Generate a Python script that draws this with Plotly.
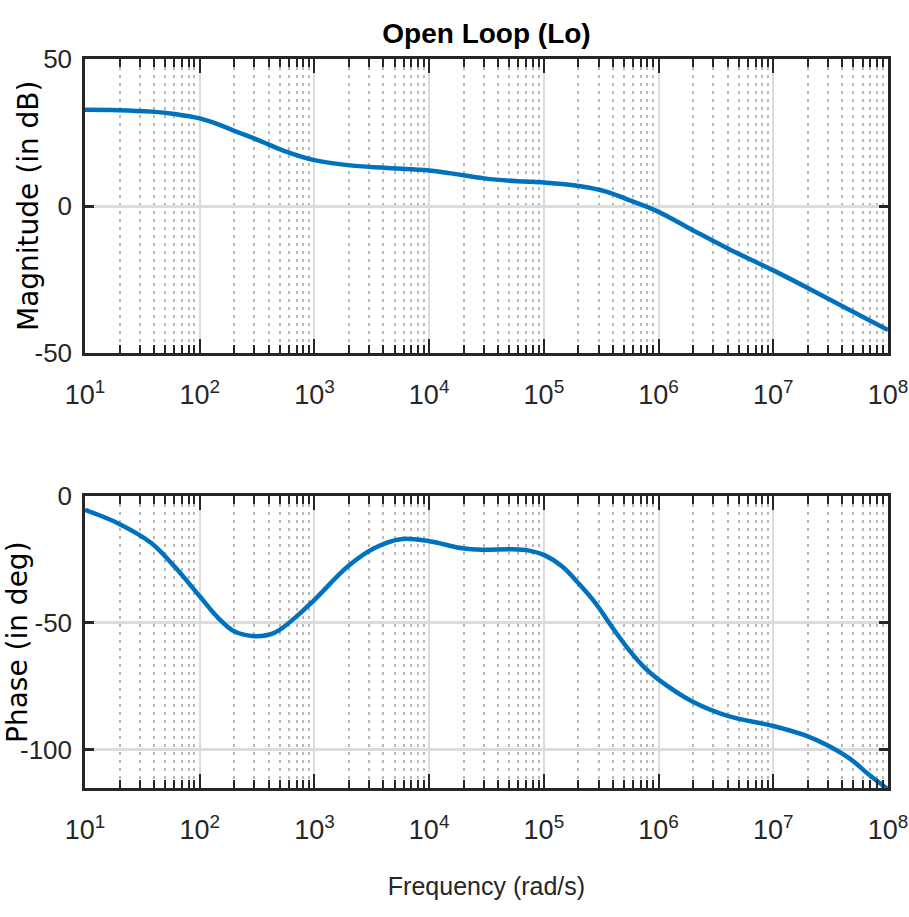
import plotly.graph_objects as go
from plotly.subplots import make_subplots

# ---- data ----
mag_freq = [1.0e1, 1.95e1, 3.8e1, 6.03e1, 1.0e2, 1.445e2, 1.995e2, 3.236e2, 5.495e2,
            1.0e3, 1.95e3, 4.074e3, 1.0e4, 1.549e4, 3.02e4, 5.888e4, 1.0e5,
            2.089e5, 3.548e5, 5.623e5, 1.0e6, 2.0e6, 4.17e6, 1.0e7, 2.24e7,
            4.37e7, 1.0e8]
mag_db = [32.7, 32.6, 32.1, 31.3, 29.8, 27.8, 25.6, 22.4, 18.7,
          15.6, 13.9, 13.0, 12.1, 11.1, 9.4, 8.4, 8.0,
          6.7, 4.8, 1.9, -2.0, -8.3, -14.8, -21.9, -28.9,
          -34.9, -42.2]

ph_freq = [1.0e1, 1.95e1, 3.8e1, 6.03e1, 1.0e2, 1.445e2, 1.995e2, 3.02e2, 4.467e2,
           6.76e2, 1.0e3, 1.95e3, 3.311e3, 5.623e3, 1.0e4, 1.95e4, 2.884e4,
           5.248e4, 7.413e4, 1.0e5, 1.445e5, 1.995e5, 2.818e5, 3.89e5, 5.495e5,
           7.586e5, 1.0e6, 1.95e6, 4.07e6, 1.0e7, 1.95e7, 3.02e7, 4.9e7,
           6.76e7, 1.0e8]
ph_deg = [-5.5, -10.8, -18.6, -27.8, -39.5, -48.0, -53.3, -55.2, -53.9,
          -48.0, -40.9, -27.8, -20.6, -17.0, -17.8, -20.6, -21.2,
          -21.0, -21.5, -23.2, -27.8, -34.3, -42.2, -51.3, -60.5,
          -67.7, -72.3, -80.8, -86.7, -90.6, -94.5, -98.4, -104.2,
          -109.6, -115.5]

major_vals = [1e1, 1e2, 1e3, 1e4, 1e5, 1e6, 1e7, 1e8]
major_text = ["10<sup>1</sup>", "10<sup>2</sup>", "10<sup>3</sup>", "10<sup>4</sup>",
              "10<sup>5</sup>", "10<sup>6</sup>", "10<sup>7</sup>", "10<sup>8</sup>"]
minor_vals = [m * 10 ** e for e in range(1, 8) for m in range(2, 10)]

mag_ticks = [-50, 0, 50]
mag_ticktext = ["-50", "0", "50"]
ph_ticks = [-100, -50, 0]
ph_ticktext = ["-100", "-50", "0"]

title_text = "Open Loop (Lo)"
xlabel = "Frequency (rad/s)"
ylabel_mag = "Magnitude (in dB)"
ylabel_ph = "Phase (in deg)"

# ---- figure ----
W, H = 909, 917
ml, mr, mt, mb = 85, 21, 59, 129
plot_w = W - ml - mr
plot_h = H - mt - mb
top_dom = [(788 - 353) / plot_h, 1]
bot_dom = [0, (788 - 496) / plot_h]

fig = make_subplots(rows=2, cols=1, vertical_spacing=0.1)

line = dict(color="#0072BD", width=4.5)
fig.add_trace(go.Scatter(x=mag_freq, y=mag_db, mode="lines", line=line,
                         line_shape="spline", showlegend=False), row=1, col=1)
fig.add_trace(go.Scatter(x=ph_freq, y=ph_deg, mode="lines", line=line,
                         line_shape="spline", showlegend=False), row=2, col=1)

sans = "Liberation Sans Narrow, Liberation Sans, Arial, sans-serif"
wide = "DejaVu Sans, Verdana, sans-serif"
axcol = "#262626"

xcommon = dict(type="log", range=[0.99995, 8.00005], tickmode="array", tickvals=major_vals,
               ticktext=major_text, ticks="inside", ticklen=14, tickwidth=2,
               tickcolor=axcol, showline=True, linecolor=axcol, linewidth=2.5,
               mirror="allticks", showgrid=True, gridcolor="#dcdcdc", gridwidth=2,
               zeroline=False, tickfont=dict(family=sans, size=27, color=axcol),
               ticklabelstandoff=16, ticklabeloverflow="allow", automargin=False,
               minor=dict(tickmode="array", tickvals=minor_vals, ticks="inside",
                          ticklen=8, tickwidth=2, tickcolor=axcol, showgrid=True,
                          gridcolor="#b8b8b8", gridwidth=1.5, griddash="3px,5px"))
ycommon = dict(tickmode="array", ticks="inside", ticklen=9, tickwidth=3,
               tickcolor=axcol, showline=True, linecolor=axcol, linewidth=2.5,
               mirror="allticks", showgrid=True, gridcolor="#dcdcdc", gridwidth=3,
               zeroline=False, tickfont=dict(family=sans, size=26, color=axcol),
               ticklabelstandoff=5, ticklabeloverflow="allow", automargin=False)

fig.update_xaxes(**xcommon)
fig.update_yaxes(**ycommon)

fig.update_layout(
    width=W, height=H,
    margin=dict(l=ml, r=mr, t=mt, b=mb, autoexpand=False),
    paper_bgcolor="white", plot_bgcolor="white",
    xaxis=dict(domain=[0, 1], anchor="y"),
    yaxis=dict(domain=top_dom, range=[-50, 50], tickvals=mag_ticks, ticktext=mag_ticktext),
    xaxis2=dict(domain=[0, 1], anchor="y2",
                title=dict(text=xlabel, standoff=34,
                           font=dict(family=sans, size=25, color=axcol))),
    yaxis2=dict(domain=bot_dom, range=[-115, 0], tickvals=ph_ticks, ticktext=ph_ticktext),
    title=dict(text="<b>" + title_text + "</b>", x=0.5, xanchor="center",
               xref="paper", y=1 - 33 / H, yref="container", yanchor="middle",
               font=dict(family=sans, size=28, color="black"), automargin=False),
)

# y-axis titles as rotated annotations (placed left of the tick labels)
fig.add_annotation(text=ylabel_mag, textangle=-90, showarrow=False,
                   xref="paper", yref="paper", x=(28 - ml) / plot_w, xanchor="center",
                   y=(top_dom[0] + top_dom[1]) / 2, yanchor="middle",
                   font=dict(family=wide, size=28, color="black"))
fig.add_annotation(text=ylabel_ph, textangle=-90, showarrow=False,
                   xref="paper", yref="paper", x=(17 - ml) / plot_w, xanchor="center",
                   y=(bot_dom[0] + bot_dom[1]) / 2, yanchor="middle",
                   font=dict(family=wide, size=28, color="black"))

fig.write_html("out.html")
